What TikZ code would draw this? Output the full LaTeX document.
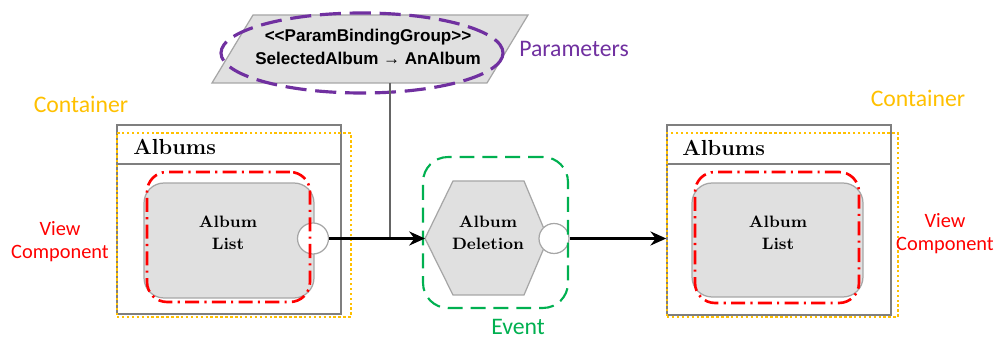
\documentclass[tikz,border=0pt]{standalone}
\usepackage{fontspec}
\newfontfamily\labfont{Carlito}
\newfontfamily\arialfont{Liberation Sans}
\usetikzlibrary{arrows.meta}
\definecolor{cyel}{HTML}{FFC000}
\definecolor{cred}{HTML}{FF0000}
\definecolor{cgreen}{HTML}{00B050}
\definecolor{cpurple}{HTML}{7030A0}
\definecolor{boxline}{HTML}{7F7F7F}
\definecolor{shapefill}{HTML}{E0E0E0}
\definecolor{shapeline}{HTML}{A6A6A6}
\tikzset{
  container/.style={draw=boxline, line width=0.9pt, fill=white, inner sep=0pt},
  cdotted/.style={draw=cyel, line width=1.4pt, dash pattern=on 1.4pt off 1.4pt, inner sep=0pt},
  viewbox/.style={draw=shapeline, line width=0.7pt, fill=shapefill, rounded corners=0.4cm, inner sep=0pt},
  vcomp/.style={draw=cred, line width=1.5pt, dash pattern=on 8pt off 3pt on 1.2pt off 3pt, rounded corners=0.4cm, inner sep=0pt},
  port/.style={circle, draw=shapeline, line width=0.7pt, fill=white, minimum size=0.62cm, inner sep=0pt},
  serifbold/.style={font=\bfseries\fontsize{9.4}{12.5}\selectfont, align=center},
  hdr/.style={font=\bfseries\fontsize{12.4}{14}\selectfont, anchor=west, inner sep=0pt},
  lab/.style={font=\labfont\fontsize{13.5}{16}\selectfont, inner sep=0pt},
  vclab/.style={font=\labfont\fontsize{11.6}{13.2}\selectfont, text=cred, align=center, inner sep=0pt},
  flow/.style={line width=1.4pt, -{Stealth[length=9pt,width=8pt,inset=3pt]}},
}
\begin{document}
\begin{tikzpicture}[x=0.02cm,y=-0.02cm]
\useasboundingbox (0,0) rectangle (997,340);

% ---------- left container ----------
\node[container, minimum width=4.48cm, minimum height=3.78cm] (cL) at (229,219.5) {};
\draw[boxline, line width=0.9pt] (cL.west |- 0,164) -- (cL.east |- 0,164);
\node[hdr] (hL) at (133,147) {Albums};
\node[viewbox, minimum width=3.4cm, minimum height=2.3cm] (vL) at (229,240.5) {};
\node[serifbold] (tL) at (228,233) {Album\\List};
\node[port] (pL) at (313,238.5) {};
\node[cdotted, minimum width=4.68cm, minimum height=3.68cm] (yL) at (234,225) {};
\node[vcomp, minimum width=3.26cm, minimum height=2.6cm] (rL) at (228.5,237) {};

% ---------- right container ----------
\node[container, minimum width=4.48cm, minimum height=3.8cm] (cR) at (779,220) {};
\draw[boxline, line width=0.9pt] (cR.west |- 0,164) -- (cR.east |- 0,164);
\node[hdr] (hR) at (682,148) {Albums};
\node[viewbox, minimum width=3.42cm, minimum height=2.28cm] (vR) at (777.5,240) {};
\node[serifbold] (tR) at (778,233) {Album\\List};
\node[cdotted, minimum width=4.62cm, minimum height=3.68cm] (yR) at (782.5,225) {};
\node[vcomp, minimum width=3.28cm, minimum height=2.62cm] (rR) at (777,237.5) {};

% ---------- event ----------
\draw[draw=shapeline, line width=0.7pt, fill=shapefill]
  (425,238.5) coordinate (hW) -- (453,181) -- (524,181) -- (548,238.5) coordinate (hE)
  -- (524,295) -- (453,295) -- cycle;
\node[serifbold] (ev) at (488,233) {Album\\Deletion};
\node[port, minimum size=0.6cm] (pE) at (554,238.5) {};
\node[draw=cgreen, line width=1.2pt, dash pattern=on 8.5pt off 4.5pt, rounded corners=0.5cm,
      minimum width=2.9cm, minimum height=3.02cm, inner sep=0pt] (gE) at (495.5,232.5) {};

% ---------- parameters ----------
\draw[draw=shapeline, line width=0.7pt, fill=shapefill]
  (253,15) -- (528,15) -- (487,83) coordinate (pb) -- (212,83) -- cycle;
\node[font=\arialfont\bfseries\fontsize{9.7}{12}\selectfont, align=center, inner sep=0pt] (par) at (368,47)
  {<<ParamBindingGroup>>\\[1.5pt]SelectedAlbum → AnAlbum};
\draw[cpurple, line width=1.8pt, dash pattern=on 12pt off 5pt] (362,53) ellipse [x radius=141, y radius=40];
\coordinate (vtop) at (390,83);
\coordinate (vjoin) at (390,238.5);

% ---------- connectors ----------
\draw[boxline!80!black, line width=0.7pt] (vtop) -- (vjoin);
\draw[flow] (pL.east) -- (hW);
\draw[flow] (pE.east) -- (cR.west |- pE.east);

% ---------- labels ----------
\node[lab, text=cyel] (lc1) at (81,104) {Container};
\node[lab, text=cyel] (lc2) at (918,98) {Container};
\node[lab, text=cpurple] (lp) at (574,49) {Parameters};
\node[lab, text=cgreen] (le) at (518,327) {Event};
\node[vclab] (lv1) at (60,242) {View\\Component};
\node[vclab] (lv2) at (945,234) {View\\Component};
\end{tikzpicture}
\end{document}
